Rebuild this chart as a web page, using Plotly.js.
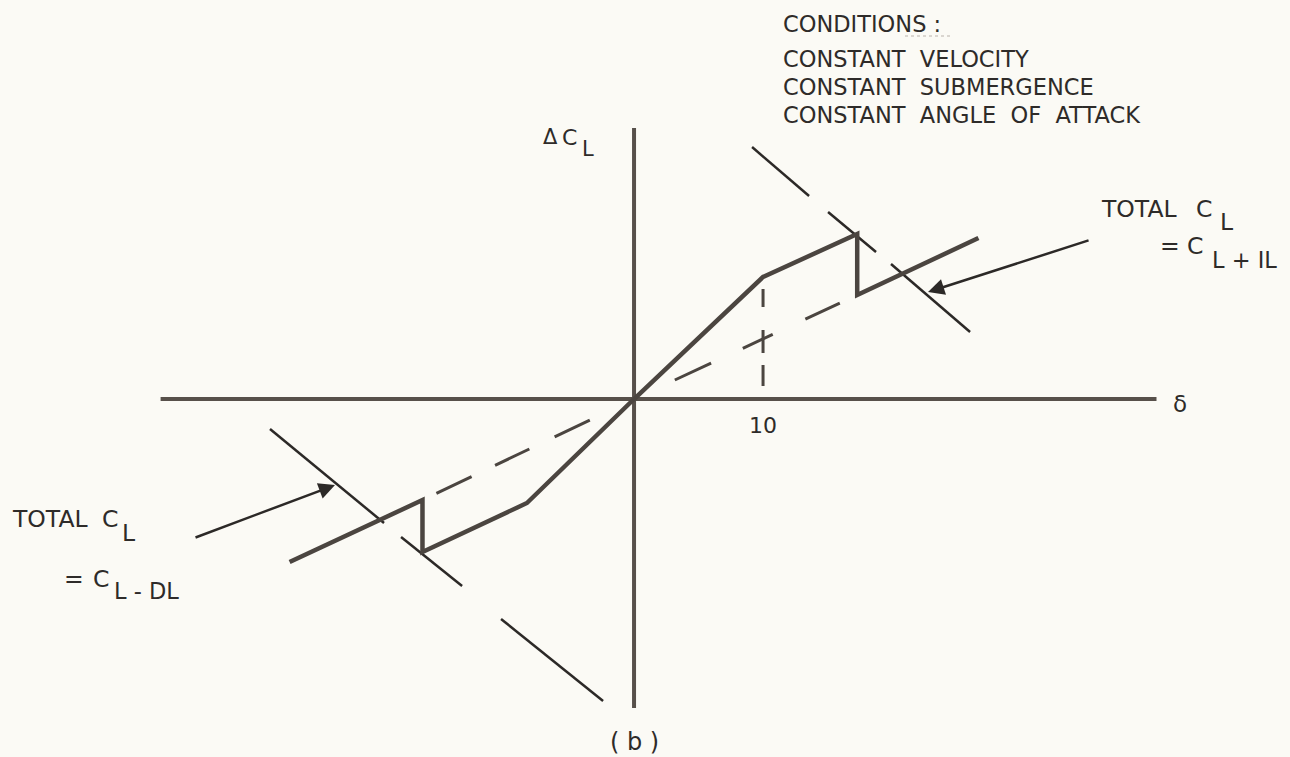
<!DOCTYPE html>
<html>
<head>
<meta charset="utf-8">
<script src="https://cdn.plot.ly/plotly-3.0.1.min.js"></script>
<style>
  html, body { margin: 0; padding: 0; background: #fbfaf5; }
  #chart { width: 1290px; height: 757px; }
</style>
</head>
<body>
<div id="chart"></div>
<script>
// Flap deflection δ and lift increment ΔC_L, in the same units on both axes.

// Axis extents
const axisDelta = [-36.7, 40.5];
const axisLift = [21.0, -23.95];

// Total C_L for positive deflection: linear rise, break at δ = 10, drop at the jump
const deltaPos = [0, 10, 17.3, 17.3, 26.7];
const liftPos = [0, 9.46, 12.79, 8.06, 12.48];

// Total C_L for negative deflection
const deltaNeg = [0, -8.3, -16.4, -16.4, -26.7];
const liftNeg = [0, -8.06, -11.86, -7.83, -12.64];

// Linear lift line up to the jump (dashed)
const linDeltaPos = [0, 17.3];
const linLiftPos = [0, 8.06];
const linDeltaNeg = [0, -16.4];
const linLiftNeg = [0, -7.83];

// Reference at δ = 10
const refDelta = [10, 10];
const refLift = [9.46, 0];

// Boundary lines (broken)
const boundUpperDelta = [9.15, 13.57, null, 15.04, 18.76, null, 19.92, 26.05];
const boundUpperLift = [19.53, 15.74, null, 14.50, 11.40, null, 10.47, 5.19];
const boundLowerDelta = [-28.22, -19.38, null, -18.06, -13.33, null, -10.31, -2.40];
const boundLowerLift = [-2.33, -9.61, null, -10.70, -14.50, null, -17.05, -23.41];

// Pointer arrows: tail and tip
const arrowUpper = { tail: [35.35, 12.33], tip: [22.79, 8.29] };
const arrowLower = { tail: [-34.11, -10.78], tip: [-23.18, -6.67] };

// Tick label
const tickDelta = [10];
const tickText = ['10'];

const conditions = ['CONDITIONS :', 'CONSTANT  VELOCITY', 'CONSTANT  SUBMERGENCE', 'CONSTANT  ANGLE  OF  ATTACK'];

const W = 1290, H = 757;
const FONT = '"DejaVu Sans", Lato, sans-serif';
const INK = '#2e2b29';
const CURVE = '#4b4540';
const AXIS = '#57504a';
const THIN = '#2c2927';

function line(x, y, color, width, dash) {
  return {
    x: x, y: y, type: 'scatter', mode: 'lines', hoverinfo: 'skip',
    connectgaps: false, showlegend: false,
    line: { color: color, width: width, dash: dash || 'solid', shape: 'linear' }
  };
}

const traces = [
  line(axisDelta, [0, 0], AXIS, 4),
  line([0, 0], axisLift, AXIS, 4),
  line(linDeltaPos, linLiftPos, CURVE, 3, '0px,45px,40px,35px,33px,36px,38px,200px'),
  line(linDeltaNeg, linLiftNeg, CURVE, 3, '0px,49px,39px,28px,38px,26px,39px,200px'),
  line(refDelta, refLift, CURVE, 3, '0px,12px,18px,23px,23px,12px,21px,200px'),
  line(boundUpperDelta, boundUpperLift, THIN, 2.5),
  line(boundLowerDelta, boundLowerLift, THIN, 2.5),
  line(deltaPos, liftPos, CURVE, 4.5),
  line(deltaNeg, liftNeg, CURVE, 4.5)
];

// Text placed in page pixels; multiple spaces kept as no-break spaces
function at(x, y) { return { xref: 'paper', yref: 'paper', x: x / W, y: 1 - y / H }; }
function label(text, x, y, size, anchor) {
  const a = anchor || 'left';
  const nx = a === 'left' ? x - 2 : x;
  return Object.assign({
    text: text.replace(/ /g, '\u00a0'), showarrow: false, xanchor: a, yanchor: 'middle',
    font: { family: FONT, size: size, color: INK }
  }, at(nx, y));
}
function arrow(a) {
  return {
    xref: 'x', yref: 'y', axref: 'x', ayref: 'y',
    x: a.tip[0], y: a.tip[1], ax: a.tail[0], ay: a.tail[1],
    text: '', showarrow: true, arrowhead: 2, arrowsize: 1.3, arrowwidth: 2.5,
    arrowcolor: THIN, standoff: 0, startstandoff: 0
  };
}

const CALL = 23.5;
const annotations = [
  label(conditions[0], 783, 24, 22.5),
  label(conditions[1], 783, 59, 22.5),
  label(conditions[2], 783, 87, 22.5),
  label(conditions[3], 783, 115, 22.5),
  // y-axis name ΔC_L
  label('Δ', 543, 137, 21),
  label('C', 562, 137, 22),
  label('L', 582, 149, 21),
  label('δ', 1180, 404, 23, 'center'),
  {
    text: tickText[0], showarrow: false, xref: 'x', yref: 'paper', x: tickDelta[0],
    y: 1 - 425 / H, xanchor: 'center', yanchor: 'middle',
    font: { family: FONT, size: 22, color: INK }
  },
  // right-hand callout
  label('TOTAL', 1101, 209, CALL),
  label('C', 1196, 209, CALL),
  label('L', 1220, 222, CALL),
  label('=', 1160, 246, CALL),
  label('C', 1187, 246, CALL),
  label('L + IL', 1212, 260, 22.5),
  // left-hand callout
  label('TOTAL', 12, 519, CALL),
  label('C', 102, 519, CALL),
  label('L', 122, 533, CALL),
  label('=', 64, 579, CALL),
  label('C', 93, 579, CALL),
  label('L - DL', 114, 591, 22.5),
  label('( b )', 634, 742, 24, 'center'),
  arrow(arrowUpper),
  arrow(arrowLower)
];

// light pencil underline under the last letters of the heading
const shapes = [{
  type: 'line', xref: 'paper', yref: 'paper',
  x0: 905 / W, x1: 952 / W, y0: 1 - 36 / H, y1: 1 - 36 / H,
  line: { color: '#b9b2ab', width: 1.2, dash: 'dot' }
}];

const layout = {
  width: W, height: H,
  margin: { l: 0, r: 0, t: 0, b: 0, pad: 0 },
  paper_bgcolor: '#fbfaf5', plot_bgcolor: '#fbfaf5',
  showlegend: false,
  xaxis: { range: [-49.15, 50.85], visible: false, fixedrange: true },
  yaxis: { range: [-27.75, 30.93], visible: false, fixedrange: true },
  annotations: annotations,
  shapes: shapes
};

Plotly.newPlot('chart', traces, layout, { displayModeBar: false, staticPlot: true });
</script>
</body>
</html>
